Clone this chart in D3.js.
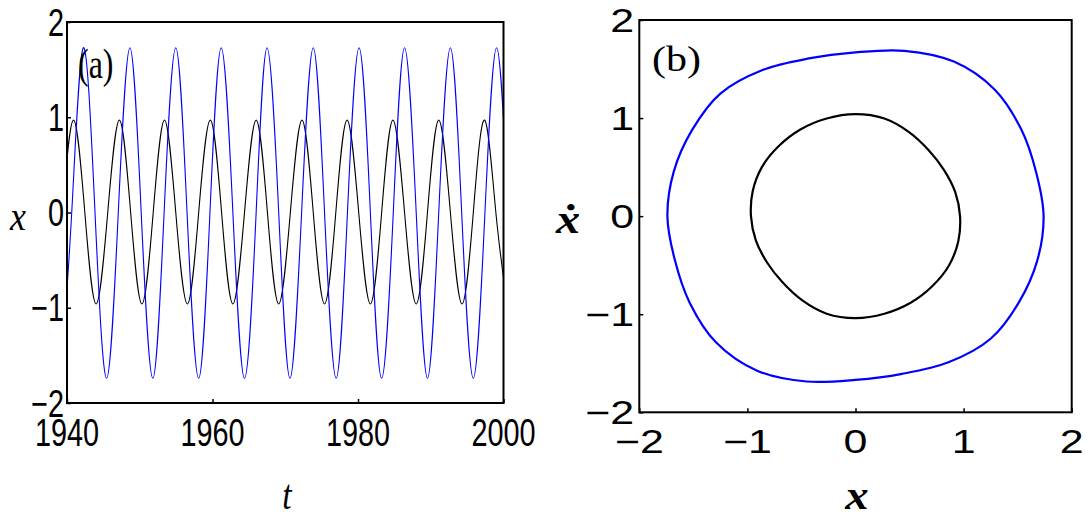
<!DOCTYPE html>
<html>
<head>
<meta charset="utf-8">
<script src="https://cdn.jsdelivr.net/npm/d3@7"></script>
<style>
  html, body { margin: 0; padding: 0; background: #fff; }
  svg { display: block; }
</style>
</head>
<body>
<svg id="fig" width="1089" height="518"></svg>
<script>
// ---------- panel (a): time series x(t) ----------
// key points (extrema and zero crossings); the first and last lie just outside the window
const blackT = [1939.35, 1940.9, 1942.45, 1944.0, 1945.6, 1947.2, 1948.75, 1950.3, 1951.85, 1953.4,
  1954.95, 1956.55, 1958.1, 1959.7, 1961.25, 1962.8, 1964.4, 1966.0, 1967.55, 1969.1,
  1970.7, 1972.3, 1973.85, 1975.4, 1976.95, 1978.5, 1980.1, 1981.7, 1983.25, 1984.8,
  1986.4, 1988.0, 1989.55, 1991.1, 1992.7, 1994.3, 1995.85, 1997.4, 1998.95, 2000.5];
const blackX = [0, 0.97, 0, -0.96, 0, 0.97, 0, -0.96, 0, 0.97,
  0, -0.96, 0, 0.97, 0, -0.96, 0, 0.97, 0, -0.96,
  0, 0.97, 0, -0.96, 0, 0.97, 0, -0.96, 0, 0.97,
  0, -0.96, 0, 0.97, 0, -0.96, 0, 0.97, 0, -0.96];

const blueT = [1939.1, 1940.65, 1942.25, 1943.85, 1945.45, 1947.05, 1948.65, 1950.2, 1951.8, 1953.35,
  1954.95, 1956.5, 1958.1, 1959.65, 1961.2, 1962.8, 1964.4, 1966.0, 1967.5, 1969.1,
  1970.65, 1972.25, 1973.85, 1975.4, 1977.0, 1978.55, 1980.15, 1981.7, 1983.25, 1984.85,
  1986.4, 1988.0, 1989.55, 1991.1, 1992.7, 1994.25, 1995.85, 1997.45, 1999.05, 2000.65];
const blueX = [-1.74, 0, 1.73, 0, -1.74, 0, 1.73, 0, -1.74, 0,
  1.73, 0, -1.74, 0, 1.73, 0, -1.74, 0, 1.73, 0,
  -1.74, 0, 1.73, 0, -1.74, 0, 1.73, 0, -1.74, 0,
  1.73, 0, -1.74, 0, 1.73, 0, -1.74, 0, 1.73, 0];

const aTicksX = [1940, 1960, 1980, 2000];
const aTicksY = [-2, -1, 0, 1, 2];

// ---------- panel (b): phase portrait (x, xdot), points taken clockwise from the top ----------
const blackLoopX = [0, 0.267, 0.495, 0.675, 0.818, 0.922, 0.967, 0.951, 0.866, 0.712, 0.51, 0.267,
  0, -0.267, -0.495, -0.675, -0.818, -0.922, -0.967, -0.951, -0.866, -0.712, -0.51, -0.267];
const blackLoopV = [1.04, 0.995, 0.857, 0.675, 0.4725, 0.247, 0, -0.255, -0.5, -0.712, -0.883, -0.995,
  -1.04, -0.995, -0.857, -0.675, -0.4725, -0.247, 0, 0.255, 0.5, 0.712, 0.883, 0.995];

const blueLoopX = [0, 0.452, 0.91, 1.289, 1.533, 1.671, 1.74, 1.682, 1.514, 1.25, 0.86, 0.431,
  0, -0.452, -0.91, -1.289, -1.533, -1.671, -1.74, -1.682, -1.514, -1.25, -0.86, -0.431];
const blueLoopV = [1.67, 1.686, 1.576, 1.289, 0.885, 0.448, 0, -0.451, -0.874, -1.25, -1.49, -1.608,
  -1.67, -1.686, -1.576, -1.289, -0.885, -0.448, 0, 0.451, 0.874, 1.25, 1.49, 1.608];

const bTicksX = [-2, -1, 0, 1, 2];
const bTicksY = [-2, -1, 0, 1, 2];

const BLUE = "#0000ff";
const SANS = "'Liberation Sans', Arial, Helvetica, sans-serif";
const SERIF = "'Liberation Serif', 'DejaVu Serif', 'Times New Roman', serif";

const svg = d3.select("#fig");
const fmt = v => (v < 0 ? "\u2212" + Math.abs(v) : String(v));

// text helper with horizontal stretch factor
function label(g, str, x, y, opts) {
  const t = g.append("text")
    .attr("transform", `translate(${x},${y}) scale(${opts.sx},1)`)
    .attr("text-anchor", opts.anchor || "middle")
    .attr("font-family", opts.family)
    .attr("font-size", opts.size)
    .attr("fill", "#000")
    .text(str);
  if (opts.italic) t.attr("font-style", "italic");
  if (opts.bold) t.attr("font-weight", "bold");
  if (opts.dy) t.attr("dy", opts.dy);
  return t;
}

// ================= panel (a) =================
{
  const L = 67, R = 503.5, T = 22, B = 403;
  const x = d3.scaleLinear().domain([1940, 2000]).range([L, R]);
  const y = d3.scaleLinear().domain([-2, 2]).range([B, T]);
  const g = svg.append("g");

  g.append("clipPath").attr("id", "clipA")
    .append("rect").attr("x", L).attr("y", T).attr("width", R - L).attr("height", B - T);

  const line = d3.line().x(d => x(d[0])).y(d => y(d[1])).curve(d3.curveNatural);
  const blackPts = blackT.map((t, i) => [t, blackX[i]]);
  const bluePts = blueT.map((t, i) => [t, blueX[i]]);

  const curves = g.append("g").attr("clip-path", "url(#clipA)");
  curves.append("path").attr("d", line(blackPts))
    .attr("fill", "none").attr("stroke", "#000").attr("stroke-width", 1.1);
  curves.append("path").attr("d", line(bluePts))
    .attr("fill", "none").attr("stroke", BLUE).attr("stroke-width", 1.1);

  // inward ticks
  const ax = g.append("g").attr("transform", `translate(0,${B})`)
    .call(d3.axisBottom(x).tickValues(aTicksX).tickSize(-4).tickSizeOuter(0).tickFormat(""));
  const ay = g.append("g").attr("transform", `translate(${L},0)`)
    .call(d3.axisLeft(y).tickValues(aTicksY).tickSize(-4).tickSizeOuter(0).tickFormat(""));
  [ax, ay].forEach(a => { a.select(".domain").remove(); a.selectAll("line").attr("stroke", "#000").attr("stroke-width", 1.5); });

  g.append("rect").attr("x", L).attr("y", T).attr("width", R - L).attr("height", B - T)
    .attr("fill", "none").attr("stroke", "#000").attr("stroke-width", 2);

  const tickOpt = { family: SANS, size: 38, sx: 0.76 };
  aTicksX.forEach(v => label(g, String(v), x(v), 446, tickOpt));
  aTicksY.forEach(v => label(g, fmt(v), 64, y(v), { ...tickOpt, anchor: "end", dy: "0.36em" }));

  label(g, "(a)", 78, 78, { family: SERIF, size: 42, sx: 0.76, anchor: "start" });
  label(g, "x", 18, 230, { family: SERIF, size: 40, sx: 0.9, italic: true });
  label(g, "t", 287, 509, { family: SERIF, size: 42, sx: 0.8, italic: true });
}

// ================= panel (b) =================
{
  const L = 639.3, R = 1071.7, T = 20, B = 412.3;
  const x = d3.scaleLinear().domain([-2, 2]).range([L, R]);
  const y = d3.scaleLinear().domain([-2, 2]).range([B, T]);
  const g = svg.append("g");

  const loop = d3.line().x(d => x(d[0])).y(d => y(d[1])).curve(d3.curveCatmullRomClosed.alpha(0.5));
  const blackPts = blackLoopX.map((v, i) => [v, blackLoopV[i]]);
  const bluePts = blueLoopX.map((v, i) => [v, blueLoopV[i]]);

  g.append("path").attr("d", loop(blackPts))
    .attr("fill", "none").attr("stroke", "#000").attr("stroke-width", 2.2);
  g.append("path").attr("d", loop(bluePts))
    .attr("fill", "none").attr("stroke", BLUE).attr("stroke-width", 2.2);

  const ax = g.append("g").attr("transform", `translate(0,${B})`)
    .call(d3.axisBottom(x).tickValues(bTicksX).tickSize(-4).tickSizeOuter(0).tickFormat(""));
  const ay = g.append("g").attr("transform", `translate(${L},0)`)
    .call(d3.axisLeft(y).tickValues(bTicksY).tickSize(-4).tickSizeOuter(0).tickFormat(""));
  [ax, ay].forEach(a => { a.select(".domain").remove(); a.selectAll("line").attr("stroke", "#000").attr("stroke-width", 1.5); });

  g.append("rect").attr("x", L).attr("y", T).attr("width", R - L).attr("height", B - T)
    .attr("fill", "none").attr("stroke", "#000").attr("stroke-width", 2);

  const tickOpt = { family: SANS, size: 33, sx: 1.3 };
  bTicksX.forEach(v => label(g, fmt(v), x(v), 453, tickOpt));
  bTicksY.forEach(v => label(g, fmt(v), 634, y(v), { ...tickOpt, anchor: "end", dy: "0.36em" }));

  label(g, "(b)", 652, 71, { family: SERIF, size: 35, sx: 1.2, anchor: "start" });
  label(g, "\u1E8B", 568, 233, { family: SERIF, size: 42, sx: 1.15, italic: true, bold: true });
  label(g, "x", 857, 509, { family: SERIF, size: 39, sx: 1.2, italic: true, bold: true });
}
</script>
</body>
</html>
